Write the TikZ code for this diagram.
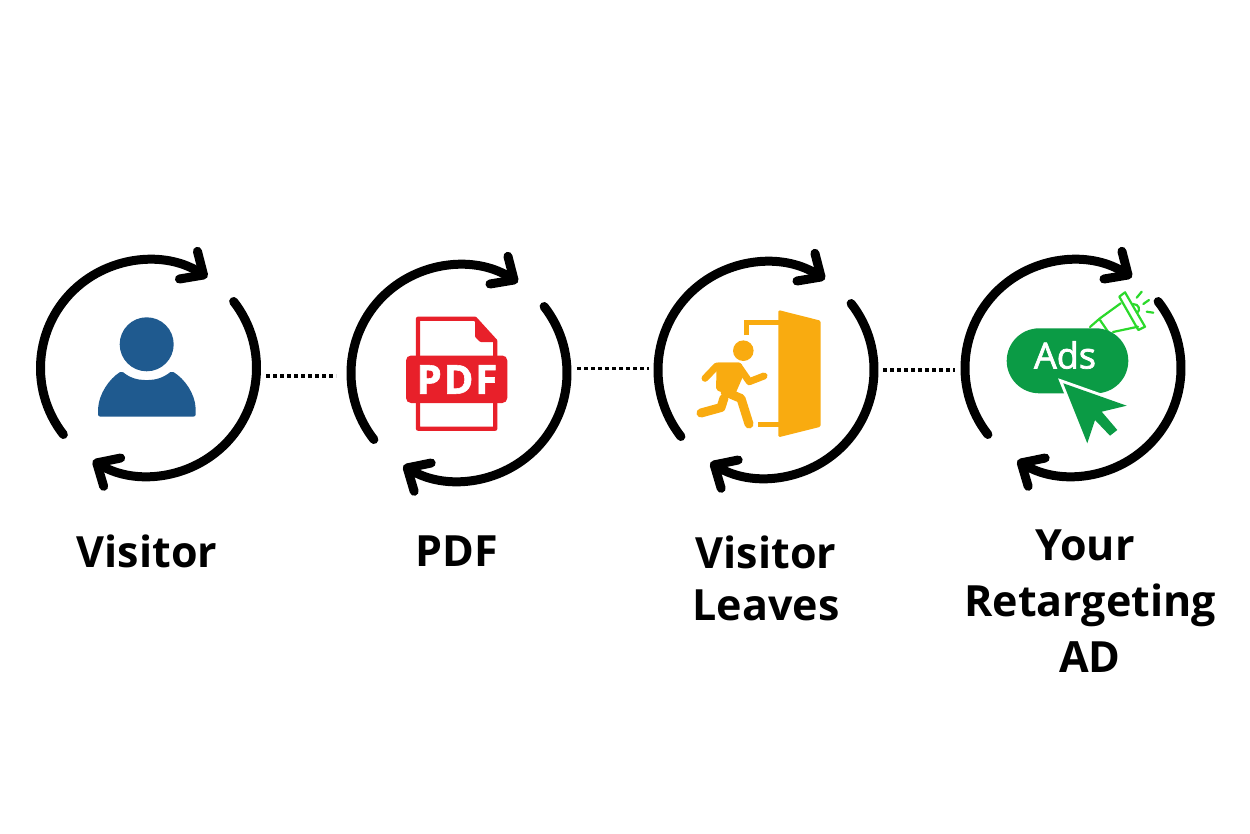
\documentclass[tikz,border=0pt]{standalone}
\usepackage{fontspec}
\setmainfont{Open Sans}
\newfontfamily\adsfont[FakeBold=2]{Open Sans}
\newfontfamily\pdffont[BoldFeatures={FakeBold=1.5,LetterSpace=5}]{Open Sans}
\usetikzlibrary{arrows.meta}
\definecolor{visitorblue}{HTML}{1F5A8F}
\definecolor{pdfred}{HTML}{E8202A}
\definecolor{exitorange}{HTML}{F9AB10}
\definecolor{adgreen}{HTML}{0B9B45}
\definecolor{hornlime}{HTML}{2BD92B}
\begin{document}
\begin{tikzpicture}[
    x=1pt, y=-1pt,
    ring/.style={circle, minimum size=216pt, inner sep=0pt},
    sweep/.style={line width=9pt, line cap=round, -{Straight Barb[round, length=18pt, width=33pt, line width=9pt]}},
    dots/.style={line width=3.4pt, dash pattern=on 3.6pt off 3.4pt},
    caption/.style={font=\fontsize{43}{52}\selectfont\bfseries, align=center},
    limb/.style={draw=exitorange, line width=7pt, line cap=round, line join=round},
    shank/.style={draw=exitorange, line width=9pt, line cap=round, line join=round},
    horn/.style={draw=hornlime, line width=2.2pt, line cap=round, line join=round}
]
\useasboundingbox (0,0) rectangle (1250,834);
\fill[white] (0,0) rectangle (1250,834);

% the four rings
\node[ring] (ring1) at (148.5,368) {};
\node[ring] (ring2) at (459,373) {};
\node[ring] (ring3) at (766,370) {};
\node[ring] (ring4) at (1073,368) {};
\foreach \r in {ring1,ring2,ring3,ring4} {
    \draw[sweep] ([shift={(142:108)}]\r.center) arc (142:303:108);
    \draw[sweep] ([shift={(322:108)}]\r.center) arc (322:481:108);
}

% dotted links
\coordinate (link1a) at (266,376);
\coordinate (link1b) at (336,376);
\coordinate (link2a) at (577,368.5);
\coordinate (link2b) at (649,368.5);
\coordinate (link3a) at (883,370);
\coordinate (link3b) at (955,370);
\draw[dots] (link1a) -- (link1b);
\draw[dots] (link2a) -- (link2b);
\draw[dots] (link3a) -- (link3b);

% visitor
\fill[visitorblue] (146.7,344.3) circle (27);
\fill[visitorblue, rounded corners=2pt] (98,416.5) -- (98,410)
    .. controls (99,394) and (109,379) .. (121.7,371) .. controls (130,378) and (138,380) .. (146.7,380)
    .. controls (155,380) and (163,378) .. (171.7,371) .. controls (185,379) and (195,394) .. (195.7,410)
    -- (195.7,416.5) -- cycle;

% pdf sheet
\draw[pdfred, line width=4.2pt, line join=round] (418,318.7) -- (475,318.7) -- (495.3,341) -- (495.3,428.7) -- (418,428.7) -- cycle;
\fill[pdfred, rounded corners=1pt] (475,318) -- (496,342) -- (480,342) -- (475,337) -- cycle;
\fill[pdfred, rounded corners=5pt] (406,355.5) -- (507.3,355.5) -- (507.3,403) -- (406,403) -- cycle;
\node[text=white, font=\pdffont\fontsize{40}{40}\selectfont\bfseries, inner sep=0pt] (pdfmark) at (457,379.5) {PDF};

% running figure and door
\fill[exitorange, rounded corners=1.5pt] (778.3,310) -- (820.7,320.7) -- (820.7,426.7) -- (778.3,437.3) -- cycle;
\draw[exitorange, line width=5.5pt] (746.7,335) -- (746.7,322.7) -- (779,322.7);
\draw[exitorange, line width=5.5pt] (758.3,424.3) -- (779,424.3);
\fill[exitorange] (743.3,350.7) circle (10.3);
\fill[exitorange, rounded corners=2pt] (716.7,362.5) -- (741,362.5) -- (745,371.7) -- (734,397) -- (716,390) -- cycle;
\draw[limb] (705,378.3) -- (716.7,366) -- (738.3,366);
\draw[limb] (740,368.3) -- (749.3,381.7) -- (764,376);
\draw[shank] (725,391.7) -- (741,398.5) -- (749,424);
\draw[shank] (724,398) -- (721,407.5) -- (701,413);

% megaphone
\draw[horn] (1119.3,296.7) -- (1125,292.3) -- (1145,326.7) -- (1138.3,330) -- cycle;
\draw[horn] (1120.7,303.3) -- (1100,318.3) -- (1090,327);
\draw[horn] (1113,332) -- (1138,326.7);
\draw[horn] (1100,320) -- (1108,331.7);
\draw[horn] (1133,304) .. controls (1139,304) and (1141,310) .. (1137,313);
\draw[horn] (1141.7,291.7) -- (1136.7,297.7);
\draw[horn] (1149,300) -- (1143.3,304);
\draw[horn] (1153.3,312.7) -- (1146.7,311.7);

% ads badge and pointer
\node[fill=adgreen, rounded corners=32.5pt, minimum width=121.6pt, minimum height=65pt, inner sep=0pt] (adsbadge) at (1067.5,360.8) {};
\node[text=white, font=\adsfont\fontsize{36}{36}\selectfont, inner sep=0pt] (adsmark) at (1065,355) {Ads};
\fill[adgreen, preaction={draw=white, line width=6pt, line join=miter}] (1063.3,383.3) -- (1126.7,405.7) -- (1101.7,411.7) -- (1117.3,430) -- (1110,435.7) -- (1095,420) -- (1087.3,443.3) -- cycle;

% captions
\node[caption] (visitorcap) at (147,551) {Visitor};
\node[caption] (pdfcap) at (457,551) {PDF};
\node[caption] (leavescap) at (766,578) {Visitor\\Leaves};
\node[caption, font=\fontsize{43}{56}\selectfont\bfseries] (adcap) at (1090,601) {Your\hspace*{10pt}\\Retargeting\\AD};
\end{tikzpicture}
\end{document}
